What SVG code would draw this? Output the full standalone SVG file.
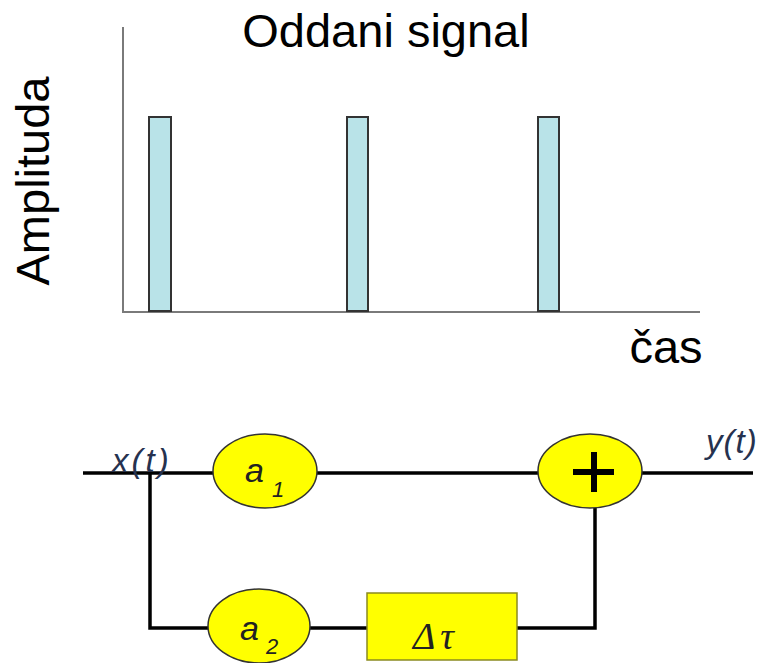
<svg xmlns="http://www.w3.org/2000/svg" width="763" height="663" viewBox="0 0 763 663">
<style>
.axis{stroke:#7a7a7a;stroke-width:2;fill:none}
.bar{fill:#b9e3e8;stroke:#333;stroke-width:2}
.big{font-family:"Liberation Sans",Arial,sans-serif;font-size:47px;fill:#000}
.wire{stroke:#000;stroke-width:3.5;fill:none}
.node{fill:#ffff00;stroke:#333;stroke-width:1.5}
.lbl{font-family:"Liberation Sans",Arial,sans-serif;font-style:italic;fill:#222}
.sig{font-family:"Liberation Sans",Arial,sans-serif;font-style:italic;font-size:33px;fill:#26324f}
.tau{font-family:"Liberation Serif","DejaVu Serif",serif;font-style:italic;font-size:38px;letter-spacing:5px;fill:#222}
</style>
<rect width="763" height="663" fill="#fff"/>
<g id="chart">
<line class="axis" x1="123" y1="27" x2="123" y2="312"/>
<line class="axis" x1="122" y1="312" x2="700" y2="312"/>
<rect class="bar" x="149" y="117" width="22" height="194"/>
<rect class="bar" x="347" y="117" width="21" height="194"/>
<rect class="bar" x="538" y="117" width="21" height="194"/>
<text class="big" x="386" y="47" text-anchor="middle">Oddani signal</text>
<text class="big" x="666" y="363" text-anchor="middle">čas</text>
<text class="big" transform="translate(49,181) rotate(-90)" text-anchor="middle">Amplituda</text>
</g>
<g id="connectors">
<path class="wire" d="M83 473 H213"/>
<path class="wire" d="M317 473 H538"/>
<path class="wire" d="M642 473 H753"/>
<path class="wire" d="M150 473 V628 H208"/>
<path class="wire" d="M310 628 H367"/>
<path class="wire" d="M517 628 H595 V508"/>
</g>
<g id="x-label"><text class="sig" x="112" y="472" letter-spacing="3">x(t)</text></g>
<g id="y-label"><text class="sig" x="706" y="453" letter-spacing="1">y(t)</text></g>
<g id="a1">
<ellipse class="node" cx="265" cy="471" rx="52" ry="37"/>
<text class="lbl" x="245" y="482" font-size="34">a</text>
<text class="lbl" x="272" y="497" font-size="22">1</text>
</g>
<g id="sum">
<ellipse class="node" cx="590" cy="471" rx="52" ry="37"/>
<path d="M573 472 H614 M594 452 V492" stroke="#000" stroke-width="6" fill="none"/>
</g>
<g id="a2">
<ellipse class="node" cx="259" cy="626" rx="51" ry="37"/>
<text class="lbl" x="240" y="640" font-size="34">a</text>
<text class="lbl" x="266" y="654" font-size="22">2</text>
</g>
<g id="delay">
<rect x="367" y="593" width="150" height="67" fill="#ffff00" stroke="#8a8a20" stroke-width="1.5"/>
<text class="tau" x="413" y="649">Δτ</text>
</g>
</svg>
